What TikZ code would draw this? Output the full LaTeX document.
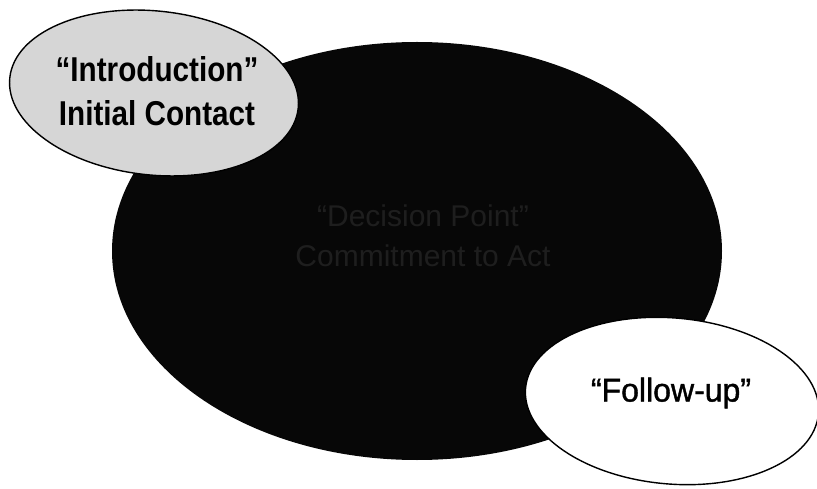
\documentclass[tikz,border=0pt]{standalone}
\usepackage{fontspec}
\setmainfont{Liberation Sans}
\newfontfamily\introfont{Liberation Sans Bold}[FakeStretch=0.86]
\newfontfamily\followfont{Liberation Sans}[FakeStretch=0.97, FakeBold=1.2]
\definecolor{darkfill}{HTML}{070707}
\definecolor{grayfill}{HTML}{D6D6D6}
\definecolor{fainttext}{HTML}{1E1E1E}
\tikzset{
  bubble/.style={line width=1.4pt, draw=black},
  labeltext/.style={align=center, inner sep=0pt}
}
\begin{document}
\begin{tikzpicture}[x=1pt,y=-1pt]
\useasboundingbox (0,0) rectangle (817,489);
\fill[white] (0,0) rectangle (817,489);
% central dark ellipse
\fill[darkfill] (417,251) ellipse [x radius=305, y radius=209];
\node[labeltext, text=fainttext, font=\fontsize{30}{40}\selectfont] (decision) at (423,236) {\textquotedblleft Decision Point\textquotedblright\\ Commitment to Act};
% top-left gray ellipse
\draw[bubble, fill=grayfill, rotate around={-6:(154,93)}] (154,93) ellipse [x radius=145, y radius=82];
\node[labeltext, font=\introfont\fontsize{34.5}{44}\selectfont] (intro) at (157,91) {\textquotedblleft Introduction\textquotedblright\\ Initial Contact};
% bottom-right white ellipse
\draw[bubble, fill=white, rotate around={-5:(672,401)}] (672,401) ellipse [x radius=147, y radius=83];
\node[labeltext, font=\followfont\fontsize{33}{40}\selectfont] (follow) at (671,393) {\textquotedblleft Follow-up\textquotedblright};
\end{tikzpicture}
\end{document}
